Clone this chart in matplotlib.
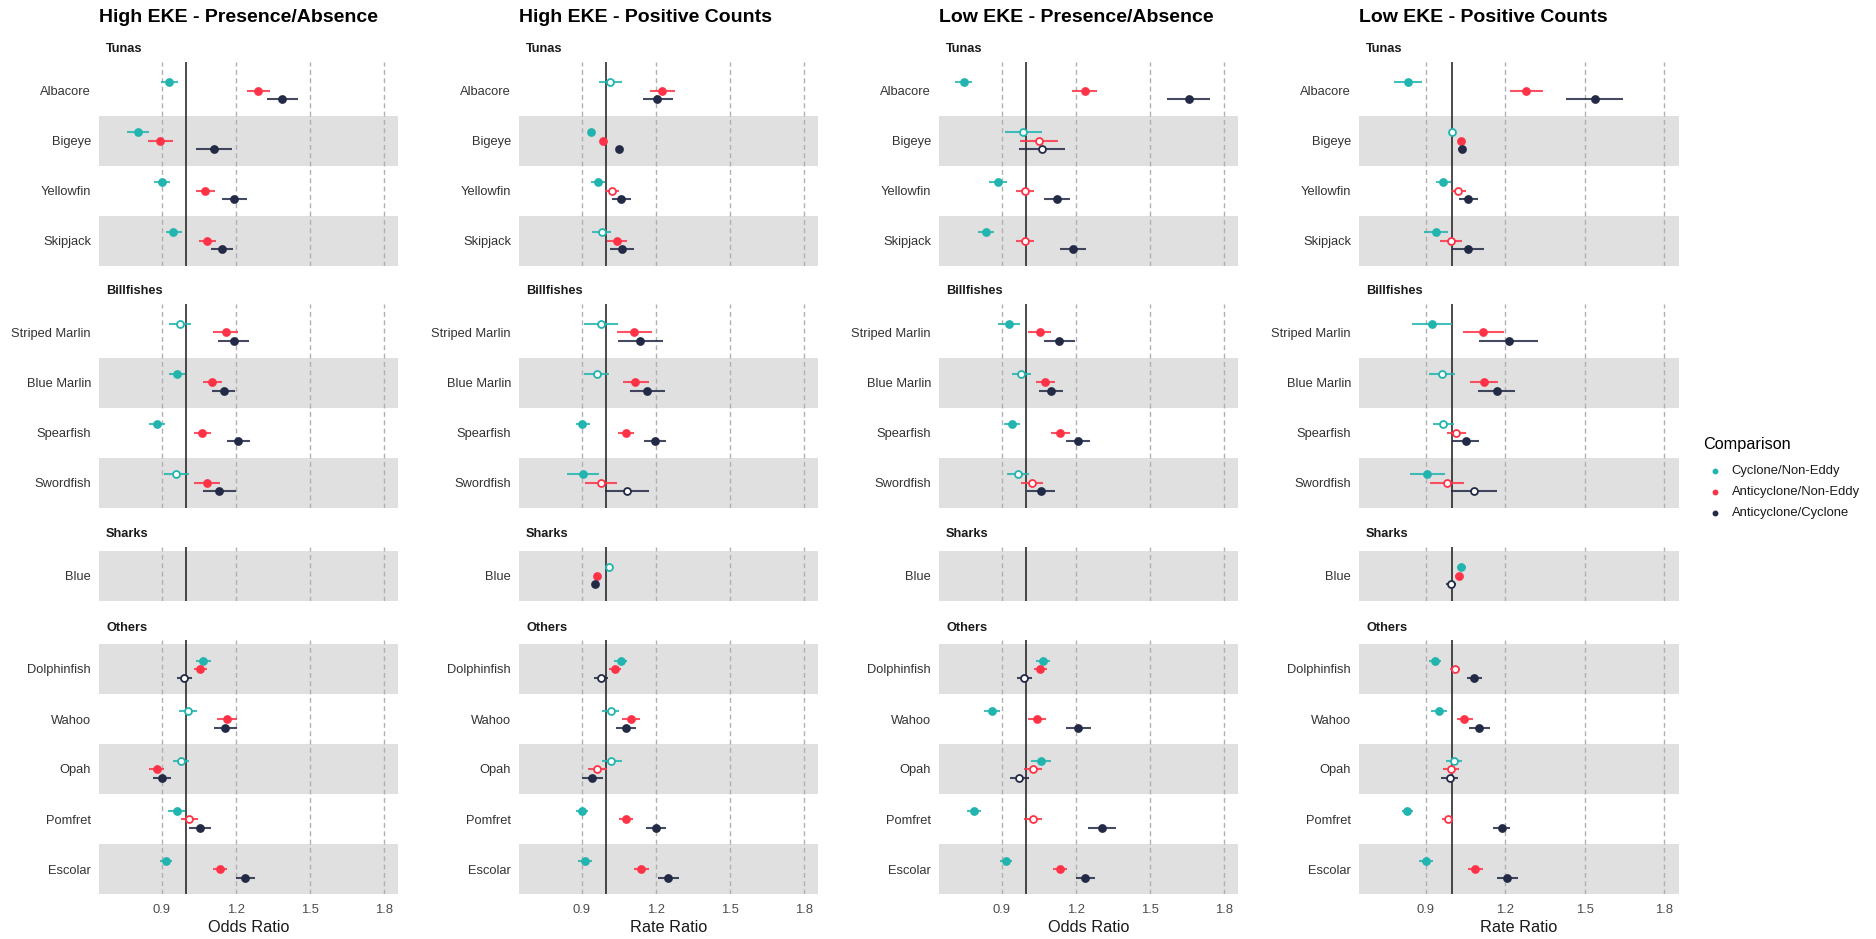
import matplotlib.pyplot as plt
from matplotlib.lines import Line2D

plt.rcParams['font.family'] = ['Liberation Sans', 'DejaVu Sans']

# species by group, top to bottom
groups = ['Tunas', 'Billfishes', 'Sharks', 'Others']
group_species = [
    ['Albacore', 'Bigeye', 'Yellowfin', 'Skipjack'],
    ['Striped Marlin', 'Blue Marlin', 'Spearfish', 'Swordfish'],
    ['Blue'],
    ['Dolphinfish', 'Wahoo', 'Opah', 'Pomfret', 'Escolar'],
]
comparisons = ['Cyclone/Non-Eddy', 'Anticyclone/Non-Eddy', 'Anticyclone/Cyclone']
colors = ['#22B5AF', '#FF3347', '#232A46']

titles = ['High EKE - Presence/Absence', 'High EKE - Positive Counts',
          'Low EKE - Presence/Absence', 'Low EKE - Positive Counts']
xlabels = ['Odds Ratio', 'Rate Ratio', 'Odds Ratio', 'Rate Ratio']
ticks = [0.9, 1.2, 1.5, 1.8]

# (estimate, lower, upper, significant) per species in the order above; None = no model
hpa_cyc = [(0.930, 0.896, 0.968, 1), (0.803, 0.759, 0.849, 1), (0.903, 0.871, 0.934, 1),
           (0.948, 0.917, 0.981, 1), (0.973, 0.931, 1.017, 0), (0.962, 0.930, 0.995, 1),
           (0.880, 0.849, 0.913, 1), (0.958, 0.911, 1.009, 0), None,
           (1.067, 1.039, 1.098, 1), (1.007, 0.972, 1.043, 0), (0.978, 0.945, 1.012, 0),
           (0.961, 0.927, 0.995, 1), (0.917, 0.894, 0.941, 1)]
hpa_anti = [(1.291, 1.244, 1.338, 1), (0.894, 0.844, 0.945, 1), (1.077, 1.039, 1.116, 1),
            (1.085, 1.050, 1.122, 1), (1.159, 1.109, 1.210, 1), (1.104, 1.069, 1.143, 1),
            (1.063, 1.031, 1.101, 1), (1.083, 1.032, 1.137, 1), None,
            (1.057, 1.031, 1.085, 1), (1.166, 1.125, 1.206, 1), (0.880, 0.849, 0.911, 1),
            (1.011, 0.977, 1.046, 0), (1.136, 1.106, 1.164, 1)]
hpa_ac = [(1.389, 1.326, 1.450, 1), (1.113, 1.039, 1.186, 1), (1.194, 1.145, 1.244, 1),
          (1.145, 1.098, 1.190, 1), (1.191, 1.129, 1.252, 1), (1.151, 1.104, 1.198, 1),
          (1.210, 1.163, 1.258, 1), (1.131, 1.066, 1.199, 1), None,
          (0.991, 0.961, 1.023, 0), (1.157, 1.110, 1.207, 1), (0.900, 0.864, 0.937, 1),
          (1.054, 1.011, 1.098, 1), (1.238, 1.201, 1.277, 1)]

hpc_cyc = [(1.016, 0.972, 1.062, 0), (0.937, 0.932, 0.942, 1), (0.966, 0.938, 0.995, 1),
           (0.981, 0.943, 1.019, 0), (0.978, 0.911, 1.048, 0), (0.961, 0.911, 1.011, 0),
           (0.903, 0.876, 0.934, 1), (0.904, 0.840, 0.972, 1), (1.011, 1.005, 1.016, 0),
           (1.058, 1.032, 1.085, 1), (1.017, 0.984, 1.052, 0), (1.020, 0.981, 1.062, 0),
           (0.900, 0.878, 0.925, 1), (0.913, 0.887, 0.941, 1)]
hpc_anti = [(1.226, 1.176, 1.277, 1), (0.985, 0.980, 0.990, 1), (1.023, 0.996, 1.051, 0),
            (1.042, 1.004, 1.082, 1), (1.113, 1.042, 1.186, 1), (1.118, 1.069, 1.172, 1),
            (1.079, 1.048, 1.112, 1), (0.978, 0.914, 1.044, 0), (0.964, 0.958, 0.970, 1),
            (1.034, 1.009, 1.059, 1), (1.098, 1.063, 1.135, 1), (0.962, 0.927, 1.001, 0),
            (1.079, 1.051, 1.109, 1), (1.140, 1.110, 1.172, 1)]
hpc_ac = [(1.206, 1.147, 1.268, 1), (1.052, 1.040, 1.066, 1), (1.059, 1.024, 1.098, 1),
          (1.063, 1.016, 1.110, 1), (1.137, 1.048, 1.229, 1), (1.166, 1.097, 1.236, 1),
          (1.197, 1.151, 1.241, 1), (1.082, 0.995, 1.171, 0), (0.954, 0.941, 0.968, 1),
          (0.977, 0.949, 1.008, 0), (1.079, 1.038, 1.122, 1), (0.943, 0.900, 0.988, 1),
          (1.201, 1.162, 1.240, 1), (1.249, 1.209, 1.292, 1)]

lpa_cyc = [(0.747, 0.712, 0.782, 1), (0.988, 0.914, 1.065, 0), (0.887, 0.849, 0.923, 1),
           (0.837, 0.805, 0.871, 1), (0.930, 0.886, 0.973, 1), (0.978, 0.941, 1.017, 0),
           (0.942, 0.908, 0.976, 1), (0.966, 0.921, 1.011, 0), None,
           (1.067, 1.039, 1.097, 1), (0.861, 0.829, 0.894, 1), (1.059, 1.020, 1.100, 1),
           (0.787, 0.759, 0.818, 1), (0.917, 0.895, 0.941, 1)]
lpa_anti = [(1.236, 1.186, 1.285, 1), (1.051, 0.974, 1.129, 0), (0.996, 0.958, 1.032, 0),
            (0.993, 0.958, 1.030, 0), (1.054, 1.008, 1.098, 1), (1.075, 1.038, 1.114, 1),
            (1.137, 1.100, 1.176, 1), (1.023, 0.978, 1.066, 0), None,
            (1.057, 1.031, 1.085, 1), (1.043, 1.005, 1.079, 1), (1.028, 0.992, 1.065, 0),
            (1.027, 0.991, 1.065, 0), (1.135, 1.106, 1.164, 1)]
lpa_ac = [(1.658, 1.569, 1.744, 1), (1.063, 0.970, 1.157, 0), (1.124, 1.071, 1.176, 1),
          (1.188, 1.136, 1.241, 1), (1.132, 1.073, 1.195, 1), (1.098, 1.051, 1.147, 1),
          (1.209, 1.159, 1.258, 1), (1.058, 1.001, 1.114, 1), None,
          (0.991, 0.961, 1.023, 0), (1.210, 1.160, 1.261, 1), (0.972, 0.933, 1.012, 0),
          (1.307, 1.250, 1.363, 1), (1.238, 1.201, 1.277, 1)]

lpc_cyc = [(0.832, 0.779, 0.885, 1), (0.999, 0.994, 1.004, 0), (0.966, 0.938, 0.995, 1),
           (0.939, 0.893, 0.984, 1), (0.922, 0.847, 1.000, 1), (0.960, 0.912, 1.011, 0),
           (0.965, 0.928, 1.005, 0), (0.905, 0.838, 0.971, 1), (1.033, 1.019, 1.051, 1),
           (0.933, 0.912, 0.956, 1), (0.949, 0.919, 0.981, 1), (1.005, 0.976, 1.035, 0),
           (0.828, 0.809, 0.850, 1), (0.900, 0.872, 0.927, 1)]
lpc_anti = [(1.279, 1.216, 1.343, 1), (1.034, 1.028, 1.040, 1), (1.021, 0.995, 1.051, 0),
            (0.994, 0.952, 1.037, 0), (1.117, 1.040, 1.194, 1), (1.119, 1.066, 1.172, 1),
            (1.015, 0.979, 1.051, 0), (0.979, 0.914, 1.043, 0), (1.025, 1.010, 1.040, 1),
            (1.008, 0.989, 1.029, 0), (1.045, 1.016, 1.076, 1), (0.994, 0.966, 1.023, 0),
            (0.982, 0.962, 1.003, 0), (1.085, 1.057, 1.114, 1)]
lpc_ac = [(1.539, 1.431, 1.645, 1), (1.035, 1.022, 1.052, 1), (1.059, 1.024, 1.096, 1),
          (1.059, 1.000, 1.119, 1), (1.212, 1.101, 1.323, 1), (1.167, 1.097, 1.236, 1),
          (1.052, 1.000, 1.100, 1), (1.082, 0.994, 1.169, 0), (0.994, 0.975, 1.014, 0),
          (1.082, 1.054, 1.111, 1), (1.101, 1.062, 1.143, 1), (0.989, 0.957, 1.021, 0),
          (1.186, 1.152, 1.217, 1), (1.207, 1.169, 1.246, 1)]

panels = [
    [hpa_cyc, hpa_anti, hpa_ac],
    [hpc_cyc, hpc_anti, hpc_ac],
    [lpa_cyc, lpa_anti, lpa_ac],
    [lpc_cyc, lpc_anti, lpc_ac],
]

W, H = 1876, 939
fig = plt.figure(figsize=(W / 100, H / 100), dpi=100)


def px_axes(left, top, width, height):
    return fig.add_axes([left / W, 1 - (top + height) / H, width / W, height / H])


col_left = [99.3, 519.3, 939.3, 1359.3]
col_width = [298.4, 298.4, 298.4, 319.4]
facet_top = [61.7, 303.5, 546.5, 640.0]
unit = 50.0        # px per species row
pad_top = 0.08
dodge = [0.17, 0.0, -0.17]
xlim = (0.648, 1.855)

for c in range(4):
    start = 0
    for g, species in enumerate(group_species):
        n = len(species)
        ax = px_axes(col_left[c], facet_top[g], col_width[c], (n + pad_top) * unit)
        ax.set_xlim(*xlim)
        ax.set_ylim(0.5, n + 0.5 + pad_top)
        for s in ax.spines.values():
            s.set_visible(False)

        ys = [n - i for i in range(n)]
        for y in ys:
            if y % 2 == 1:
                ax.axhspan(y - 0.5, y + 0.5, color='#E0E0E0', lw=0, zorder=0)
        for t in ticks:
            ax.axvline(t, color='#B0B0B0', lw=1.0, dashes=(3.5, 2.5), zorder=1)
        ax.axvline(1.0, color='#1A1A1A', lw=1.1, zorder=2)

        for k, series in enumerate(panels[c]):
            for i, y in enumerate(ys):
                d = series[start + i]
                if d is None:
                    continue
                est, lo, hi, sig = d
                yy = y + dodge[k]
                ax.hlines(yy, lo, hi, color=colors[k], lw=1.5, alpha=0.85, zorder=3)
                ax.plot(est, yy, 'o', ms=5, mew=1.3, mec=colors[k],
                        mfc=colors[k] if sig else 'white', zorder=4)

        ax.set_yticks(ys)
        ax.set_yticklabels(species, fontsize=9.3, color='#333333')
        ax.tick_params(axis='y', length=0, pad=6)
        if g == len(groups) - 1:
            ax.set_xticks(ticks)
            ax.set_xticklabels([f'{t:.1f}' for t in ticks], fontsize=9.4, color='#4D4D4D')
            ax.tick_params(axis='x', length=0, pad=7)
        else:
            ax.set_xticks([])

        fig.text((col_left[c] + 6.7) / W, 1 - (facet_top[g] - 9.4) / H, groups[g],
                 fontsize=9.2, fontweight='bold', color='#1A1A1A', va='baseline')
        start += n

    fig.text(col_left[c] / W, 1 - 22.5 / H, titles[c], fontsize=14,
             fontweight='bold', va='baseline')
    fig.text((col_left[c] + col_width[c] / 2) / W, 1 - 928 / H, xlabels[c],
             fontsize=11.7, ha='center', va='center', color='#1A1A1A')

# legend
fig.text(1702.7 / W, 1 - 449.3 / H, 'Comparison', fontsize=11.7, va='baseline')
for k, (lab, col) in enumerate(zip(comparisons, colors)):
    yk = 1 - (470.7 + 21.3 * k) / H
    fig.add_artist(Line2D([1715 / W], [yk], transform=fig.transFigure, marker='o',
                          ms=3.2, color=col, lw=0))
    fig.text(1731.7 / W, yk, lab, fontsize=9.4, va='center', color='#1A1A1A')

fig.savefig('out.png', dpi=100, facecolor='white')
